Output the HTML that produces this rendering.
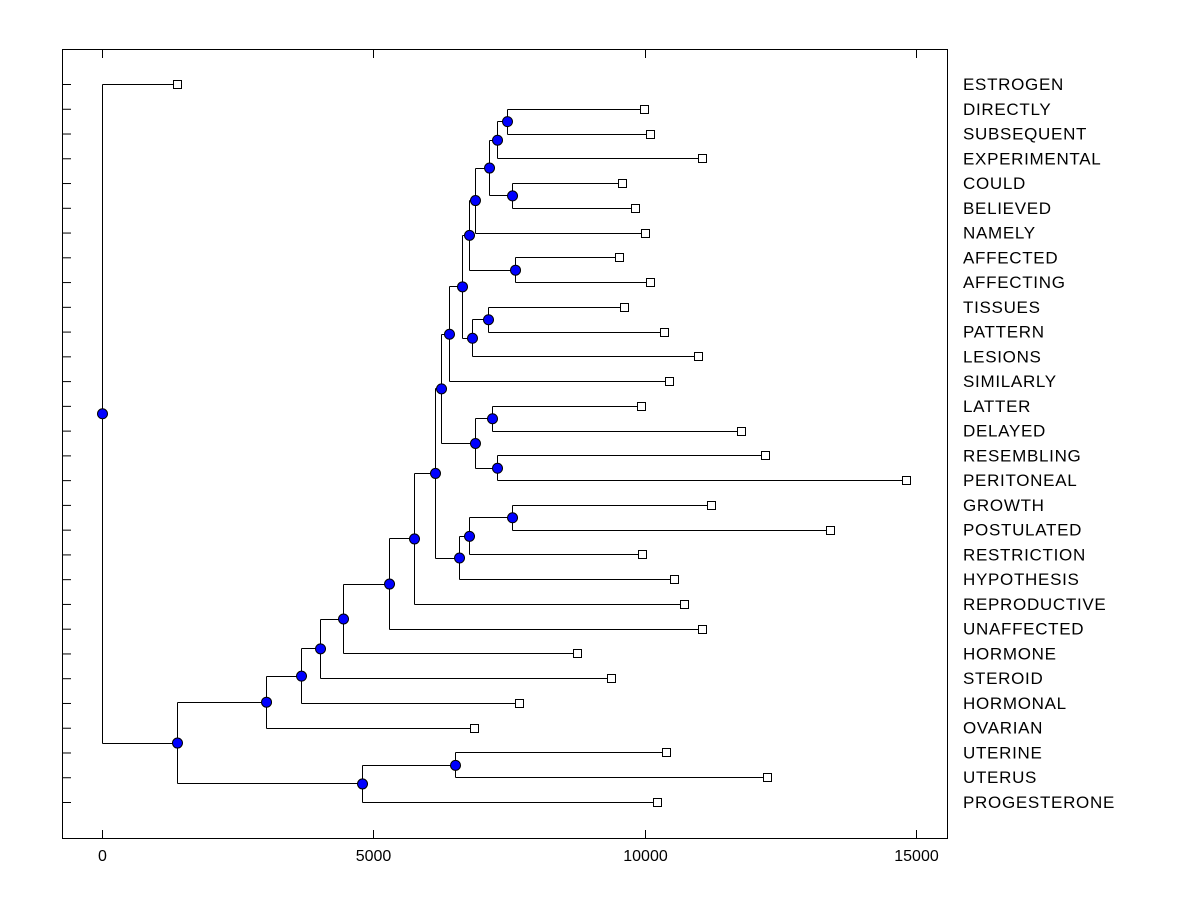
<!DOCTYPE html>
<html><head><meta charset="utf-8"><style>
html,body{margin:0;padding:0;background:#fff;}
svg{display:block;font-family:"Liberation Sans",Arial,sans-serif;}
</style></head><body>
<svg id="chart" width="1200" height="900" viewBox="0 0 1200 900" xmlns="http://www.w3.org/2000/svg">
<rect x="62.5" y="49.5" width="885" height="789" fill="none" stroke="#000" stroke-width="1"/>
<g id="g"></g>
</svg>
<script>
const leafNames=["ESTROGEN","DIRECTLY","SUBSEQUENT","EXPERIMENTAL","COULD","BELIEVED","NAMELY","AFFECTED","AFFECTING","TISSUES","PATTERN","LESIONS","SIMILARLY","LATTER","DELAYED","RESEMBLING","PERITONEAL","GROWTH","POSTULATED","RESTRICTION","HYPOTHESIS","REPRODUCTIVE","UNAFFECTED","HORMONE","STEROID","HORMONAL","OVARIAN","UTERINE","UTERUS","PROGESTERONE"];
const leafValues=[1382,9990,10100,11060,9584,9823,10008,9528,10100,9620,10357,10984,10450,9934,11777,12219,14817,11224,13417,9952,10542,10726,11058,8754,9380,7685,6856,10394,12256,10228];
const mergeA=[1,30,4,31,33,7,34,9,37,36,39,13,15,41,40,17,45,46,44,48,49,50,51,52,53,27,55,54,0];
const mergeB=[2,3,5,32,6,8,35,10,11,38,12,14,16,42,43,18,19,20,47,21,22,23,24,25,26,28,29,56,57];
const mergeHeights=[7464,7280,7557,7133,6874,7612,6764,7114,6819,6635,6395,7188,7280,6874,6248,7557,6764,6580,6137,5750,5290,4442,4018,3668,3023,6506,4792,1382,0];
const xTicks=[0,5000,10000,15000];

const NS="http://www.w3.org/2000/svg";
const g=document.getElementById('g');
const xS=v=>102+v*(271.3/5000);
const yS=i=>84+i*(718/29);
function mk(t,a){const e=document.createElementNS(NS,t);for(const k in a)e.setAttribute(k,a[k]);g.appendChild(e);return e;}
const nx=[],ny=[];
leafValues.forEach((v,i)=>{nx[i]=xS(v);ny[i]=yS(i);});
const n=leafValues.length;
mergeHeights.forEach((h,k)=>{const a=mergeA[k],b=mergeB[k],id=n+k;nx[id]=xS(h);ny[id]=(ny[a]+ny[b])/2;});
leafNames.forEach((nm,i)=>{
  const t=mk('line',{x1:62,x2:71,y1:yS(i)+0.5,y2:yS(i)+0.5,stroke:'#000'});
  
  
});
xTicks.forEach(v=>{
  const x=Math.round(xS(v))+0.5;
  const t1=mk('line',{x1:x,x2:x,y1:838,y2:830,stroke:'#000'});
  
  
  const t2=mk('line',{x1:x,x2:x,y1:50,y2:58,stroke:'#000'});
  
  
  const l=mk('text',{x:x,y:861,'text-anchor':'middle','font-size':'16'});
  l.textContent=v;
  
  
});
mergeHeights.forEach((h,k)=>{
  const a=mergeA[k],b=mergeB[k],id=n+k,x=Math.round(nx[id])+0.5;
  const v=mk('line',{x1:x,x2:x,y1:Math.round(ny[a])+0.5,y2:Math.round(ny[b])+0.5,stroke:'#000'});
  
  
  [a,b].forEach(c=>{
    const hl=mk('line',{x1:x,x2:nx[c],y1:Math.round(ny[c])+0.5,y2:Math.round(ny[c])+0.5,stroke:'#000'});
    
    
  });
});
mergeHeights.forEach((h,k)=>{
  const id=n+k;
  const c=mk('circle',{cx:nx[id]+0.5,cy:ny[id]+0.5,r:5,fill:'#0000ff',stroke:'#000','stroke-width':1});
  
  
});
leafNames.forEach((nm,i)=>{
  const s=mk('rect',{x:Math.round(nx[i])-3.5,y:Math.round(ny[i])-3.5,width:8,height:8,fill:'#fff',stroke:'#000'});
  
  
  const t=mk('text',{x:963,y:ny[i]+6,'font-size':'17','letter-spacing':'0.7'});
  t.textContent=nm;
  
  
});
</script>
</body></html>
